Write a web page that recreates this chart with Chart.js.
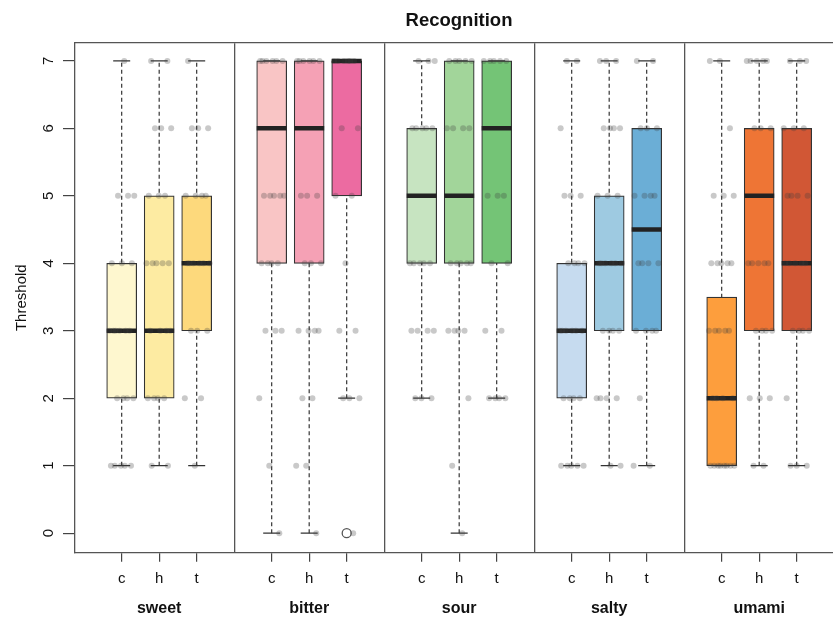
<!DOCTYPE html>
<html>
<head>
<meta charset="utf-8">
<style>
  html, body { margin: 0; padding: 0; overflow: hidden; background: #fff; }
  canvas { display: block; }
</style>
<script src="https://cdn.jsdelivr.net/npm/chart.js@4/dist/chart.umd.min.js"></script>
</head>
<body>
<canvas id="chart" width="850" height="617"></canvas>
<script>
// Categories
const tastes = ['sweet', 'bitter', 'sour', 'salty', 'umami'];
const groups = ['c', 'h', 't'];
const yTicks = [0, 1, 2, 3, 4, 5, 6, 7];

// Box summaries, taste by taste, groups c / h / t within each taste
const boxMin    = [1, 1, 1,   0, 0, 2,   2, 0, 2,   1, 1, 1,     1, 1, 1];
const boxQ1     = [2, 2, 3,   4, 4, 5,   4, 4, 4,   2, 3, 3,     1, 3, 3];
const boxMedian = [3, 3, 4,   6, 6, 7,   5, 5, 6,   3, 4, 4.5,   2, 5, 4];
const boxQ3     = [4, 5, 5,   7, 7, 7,   6, 7, 7,   4, 5, 6,   3.5, 6, 6];
const boxMax    = [7, 7, 7,   7, 7, 7,   7, 7, 7,   7, 7, 7,     7, 7, 7];

// Outlying values
const outlierTaste = ['bitter'];
const outlierGroup = ['t'];
const outlierValue = [0];

// Individual answers: how many participants gave each threshold 0..7
const countsSweet  = [[0, 5, 4, 6, 3, 3, 0, 1], [0, 2, 4, 4, 5, 3, 3, 2], [0, 1, 2, 3, 6, 4, 3, 1]];
const countsBitter = [[1, 1, 1, 3, 4, 5, 0, 6], [1, 2, 2, 4, 3, 3, 0, 6], [1, 0, 3, 2, 1, 2, 2, 6]];
const countsSour   = [[0, 0, 3, 4, 5, 0, 5, 3], [1, 1, 1, 4, 5, 0, 4, 5], [0, 0, 4, 2, 2, 3, 0, 5]];
const countsSalty  = [[0, 5, 4, 6, 4, 3, 1, 2], [0, 2, 4, 4, 6, 3, 4, 3], [0, 2, 1, 4, 4, 4, 3, 2]];
const countsUmami  = [[0, 8, 4, 5, 5, 3, 1, 2], [0, 2, 3, 4, 5, 0, 3, 5], [0, 3, 1, 4, 5, 4, 3, 3]];
const countsByTaste = [countsSweet, countsBitter, countsSour, countsSalty, countsUmami];

// Fill colours, one per box
const boxColors = [
  '#FEF7CF', '#FDEBA2', '#FDD97C',
  '#F9C5C5', '#F5A1B5', '#EC6BA1',
  '#C7E4C1', '#A2D59A', '#74C476',
  '#C6DBEF', '#9ECAE1', '#6BAED6',
  '#FD9E3D', '#EE7535', '#D15735'
];

const FONT = '"Liberation Sans", Arial, sans-serif';

// Each taste takes 4 slots on the x scale: boxes in slots 1..3, panel edges at multiples of 4
const slot = (ti, gi) => 4 * ti + gi + 1;
const boxes = [];
tastes.forEach((t, ti) => groups.forEach((g, gi) => boxes.push({ i: boxes.length, ti, gi, x: slot(ti, gi) })));
const dividers = tastes.slice(1).map((t, ti) => 4 * (ti + 1));
const tasteCenters = tastes.map((t, ti) => 4 * ti + 2);

const groupLabelAt = {};
boxes.forEach(b => { groupLabelAt[b.x] = groups[b.gi]; });
const tasteLabelAt = {};
tastes.forEach((t, ti) => { tasteLabelAt[tasteCenters[ti]] = t; });

const X_MIN = -0.245, X_MAX = 20.235;
const Y_MIN = -0.29, Y_MAX = 7.27;

// Horizontal spread of the individual answers around each box centre
const jitterPoints = [];
let seq = 0;
boxes.forEach(b => {
  const counts = countsByTaste[b.ti][b.gi];
  counts.forEach((n, level) => {
    for (let k = 0; k < n; k++) {
      seq += 1;
      const frac = (seq * 0.6180339887) % 1;
      jitterPoints.push({ x: b.x + (frac - 0.5) * 0.7, y: level });
    }
  });
});

const outlierPoints = outlierValue.map((v, k) => ({
  x: slot(tastes.indexOf(outlierTaste[k]), groups.indexOf(outlierGroup[k])),
  y: v
}));

const whiskerLine = [];
const capPoints = [];
boxes.forEach(b => {
  whiskerLine.push({ x: b.x, y: boxMin[b.i] }, { x: b.x, y: boxMax[b.i] }, { x: b.x, y: null });
  capPoints.push({ x: b.x, y: boxMin[b.i] }, { x: b.x, y: boxMax[b.i] });
});

new Chart(document.getElementById('chart'), {
  type: 'scatter',
  data: {
    datasets: [
      {
        type: 'scatter',
        data: jitterPoints,
        pointRadius: 3,
        pointBackgroundColor: 'rgba(60,60,60,0.28)',
        pointBorderWidth: 0,
        order: 0
      },
      {
        type: 'scatter',
        data: outlierPoints,
        pointRadius: 4.5,
        pointBackgroundColor: 'rgba(0,0,0,0)',
        pointBorderColor: '#555',
        pointBorderWidth: 1.3,
        order: 1
      },
      {
        type: 'scatter',
        data: boxes.map(b => ({ x: b.x, y: boxMedian[b.i] })),
        pointStyle: 'line',
        pointRadius: 15,
        pointBorderWidth: 4.5,
        pointBorderColor: '#222',
        order: 2
      },
      {
        type: 'bar',
        data: boxes.map(b => ({ x: b.x, y: [boxQ1[b.i], boxQ3[b.i]] })),
        backgroundColor: boxColors,
        borderColor: '#333',
        borderWidth: 1.2,
        borderSkipped: false,
        barThickness: 30,
        order: 3
      },
      {
        type: 'scatter',
        data: capPoints,
        pointStyle: 'line',
        pointRadius: 8.5,
        pointBorderWidth: 1.3,
        pointBorderColor: '#333',
        order: 4
      },
      {
        type: 'line',
        data: whiskerLine,
        borderColor: '#333',
        borderWidth: 1.2,
        borderDash: [4, 3],
        pointRadius: 0,
        spanGaps: false,
        fill: false,
        order: 5
      }
    ]
  },
  options: {
    responsive: false,
    animation: false,
    events: [],
    devicePixelRatio: 1,
    layout: { autoPadding: false, padding: { left: 0, right: 7, top: 0, bottom: 0 } },
    plugins: {
      legend: { display: false },
      tooltip: { enabled: false },
      title: {
        display: true,
        text: 'Recognition',
        fullSize: false,
        color: '#111',
        font: { family: FONT, size: 18.5, weight: 'bold' },
        padding: { top: 9.9, bottom: 10.6 }
      }
    },
    scales: {
      x: {
        type: 'linear', position: 'bottom', weight: 0,
        min: X_MIN, max: X_MAX, offset: false,
        afterBuildTicks: s => { s.ticks = boxes.map(b => ({ value: b.x })); },
        afterFit: s => { s.height = 40; },
        ticks: {
          autoSkip: false, maxRotation: 0, minRotation: 0, padding: 8,
          color: '#111', font: { family: FONT, size: 15 },
          callback: v => groupLabelAt[v] || ''
        },
        grid: { drawOnChartArea: false, drawTicks: true, tickLength: 9, color: '#444', lineWidth: 1.2, offset: false },
        border: { display: true, color: '#555', width: 1.3 }
      },
      x2: {
        type: 'linear', position: 'bottom', weight: 1,
        min: X_MIN, max: X_MAX, offset: false,
        afterBuildTicks: s => { s.ticks = tasteCenters.map(v => ({ value: v })); },
        afterFit: s => { s.height = 24.3; },
        ticks: {
          autoSkip: false, maxRotation: 0, minRotation: 0, padding: 6,
          color: '#111', font: { family: FONT, size: 16, weight: 'bold' },
          callback: v => tasteLabelAt[v] || ''
        },
        grid: { display: false, drawTicks: false, offset: false },
        border: { display: false }
      },
      xTop: {
        type: 'linear', position: 'top',
        min: X_MIN, max: X_MAX, offset: false,
        afterBuildTicks: s => { s.ticks = dividers.map(v => ({ value: v })); },
        afterFit: s => { s.height = 0; },
        ticks: { display: false },
        grid: { drawOnChartArea: true, drawTicks: false, color: '#555', lineWidth: 1.3, offset: false },
        border: { display: true, color: '#555', width: 1.3 }
      },
      y: {
        type: 'linear', position: 'left',
        min: Y_MIN, max: Y_MAX,
        afterBuildTicks: s => { s.ticks = yTicks.map(v => ({ value: v })); },
        afterFit: s => { s.width = 75; },
        ticks: {
          minRotation: 90, maxRotation: 90, crossAlign: 'center', padding: 10,
          color: '#111', font: { family: FONT, size: 15 }
        },
        grid: { drawOnChartArea: false, tickLength: 12, color: '#444', lineWidth: 1.2 },
        border: { display: true, color: '#555', width: 1.3 },
        title: {
          display: true, text: 'Threshold', color: '#111',
          font: { family: FONT, size: 15 },
          padding: { top: 13, bottom: 0 }
        }
      }
    }
  }
});
</script>
</body>
</html>
